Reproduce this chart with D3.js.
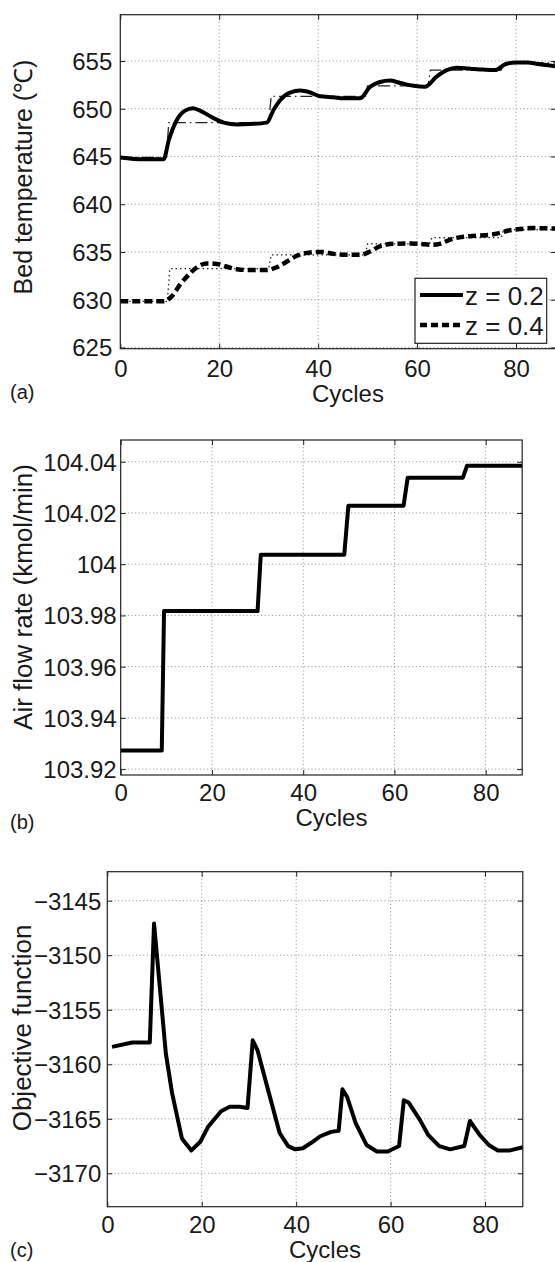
<!DOCTYPE html>
<html>
<head>
<meta charset="utf-8">
<script src="https://cdn.jsdelivr.net/npm/d3@7"></script>
<style>
  html, body { margin: 0; padding: 0; background: #fff; }
  svg { display: block; }
  text { font-family: "Liberation Sans", Arial, sans-serif; fill: #1a1a1a; }
</style>
</head>
<body>
<svg id="fig" width="555" height="1262"></svg>
<script>
// ---- (a) bed temperature ----
const z02Cycles = [0, 4.7, 8.75, 9.8, 11.4, 13.1, 14.7, 16.5, 18.9, 20.9, 23.6, 26.3, 29.6, 31, 32.3, 34.3, 36.4, 38.4, 40.4, 43.1, 45.1, 48.5, 50.5, 52.5, 54.5, 56.6, 59.3, 61.6, 64, 66, 68, 70.7, 73.4, 75.8, 77.8, 80.1, 82.2, 84.8, 88];
const z02Temp = [644.9, 644.7, 644.7, 646.7, 648.8, 649.8, 650.05, 649.7, 649.0, 648.55, 648.35, 648.4, 648.55, 649.9, 650.9, 651.7, 651.9, 651.7, 651.3, 651.2, 651.1, 651.1, 652.3, 652.8, 652.95, 652.7, 652.4, 652.3, 653.4, 654.05, 654.3, 654.2, 654.1, 654.05, 654.65, 654.85, 654.85, 654.65, 654.45];
const z04Cycles = [0, 8.75, 10.4, 12.1, 13.8, 15.5, 17.5, 19.5, 21.2, 23.6, 26.3, 29.6, 31.6, 33.7, 35.7, 38.4, 40.7, 43.1, 45.8, 48.5, 50.5, 52.5, 55.2, 58.6, 61.6, 63, 64.6, 67, 69.4, 72.1, 74.7, 76.4, 78.5, 80.8, 83.5, 88];
const z04Temp = [629.83, 629.83, 630.35, 631.6, 632.6, 633.4, 633.8, 633.75, 633.5, 633.2, 633.1, 633.1, 633.4, 634.0, 634.6, 634.95, 635.0, 634.8, 634.7, 634.7, 635.05, 635.6, 635.85, 635.9, 635.8, 635.75, 635.85, 636.35, 636.6, 636.7, 636.8, 636.95, 637.25, 637.4, 637.5, 637.45];
const z02SetCycles = [0, 9.3, 9.8, 30.0, 30.5, 49.5, 50.0, 62.2, 62.7, 77.0, 77.5, 88];
const z02SetTemp = [644.9, 644.9, 648.55, 648.55, 651.3, 651.3, 652.4, 652.4, 654.05, 654.05, 654.8, 654.8];
const z04SetCycles = [0, 9.5, 10.0, 30.0, 30.5, 49.5, 50.0, 62.5, 63.0, 77.0, 77.5, 88];
const z04SetTemp = [629.83, 629.83, 633.25, 633.25, 634.7, 634.7, 635.85, 635.85, 636.5, 636.5, 637.35, 637.35];
const tempTicks = [625, 630, 635, 640, 645, 650, 655];
const legendLabels = ["z = 0.2", "z = 0.4"];

// ---- (b) air flow rate ----
const airCycles = [0, 9, 9.5, 30, 30.7, 49, 49.9, 62, 62.9, 75, 75.9, 88];
const airFlow = [103.9273, 103.9273, 103.9817, 103.9817, 104.0037, 104.0037, 104.0228, 104.0228, 104.0338, 104.0338, 104.0384, 104.0384];
const airTicks = [103.92, 103.94, 103.96, 103.98, 104, 104.02, 104.04];
const airTickLabels = ["103.92", "103.94", "103.96", "103.98", "104", "104.02", "104.04"];

// ---- (c) objective function ----
const objCycles = [1, 5.3, 9, 9.9, 12.4, 13.7, 15.8, 17.8, 19.7, 21.4, 24.1, 25.9, 28, 29.7, 30.8, 31.8, 34.2, 36.5, 38.3, 39.8, 41.4, 43.2, 45.1, 47.4, 49, 49.8, 50.8, 52.6, 54.9, 57.1, 59.4, 61.8, 62.8, 63.8, 66.2, 68, 70.3, 72.6, 75.6, 76.8, 78.9, 80.8, 82.7, 85.3, 88];
const objValue = [-3158.4, -3158.0, -3158.0, -3147.1, -3159.0, -3162.6, -3166.8, -3167.9, -3167.1, -3165.7, -3164.3, -3163.9, -3163.9, -3164.0, -3157.8, -3158.7, -3162.6, -3166.3, -3167.5, -3167.8, -3167.7, -3167.2, -3166.6, -3166.2, -3166.1, -3162.3, -3163.0, -3165.4, -3167.4, -3168.0, -3168.0, -3167.5, -3163.3, -3163.5, -3165.1, -3166.5, -3167.5, -3167.8, -3167.5, -3165.2, -3166.5, -3167.4, -3167.9, -3167.9, -3167.6];
const objTicks = [-3170, -3165, -3160, -3155, -3150, -3145];

const cycleTicks = [0, 20, 40, 60, 80];
const cycleDomain = [0, 88];

const svg = d3.select("#fig");
const zip = (xs, ys) => xs.map((x, i) => [x, ys[i]]);

function panel(cfg) {
  const x = d3.scaleLinear().domain(cycleDomain).range([cfg.left, cfg.right]);
  const y = d3.scaleLinear().domain(cfg.yDomain).range([cfg.bottom, cfg.top]);
  const g = svg.append("g");

  // dotted grid
  const grid = g.append("g").attr("stroke", "#8a8a8a").attr("stroke-width", 1)
    .attr("stroke-dasharray", "1,2.6").attr("fill", "none");
  cycleTicks.filter(t => t > 0).forEach(t => {
    grid.append("line").attr("x1", x(t)).attr("x2", x(t)).attr("y1", cfg.top).attr("y2", cfg.bottom);
  });
  cfg.yTicks.forEach(t => {
    grid.append("line").attr("x1", cfg.left).attr("x2", cfg.right).attr("y1", y(t)).attr("y2", y(t));
  });

  // axes with inward ticks on all four sides
  const tl = 5;
  const axB = g.append("g").attr("transform", `translate(0,${cfg.bottom})`)
    .call(d3.axisBottom(x).tickValues(cycleTicks).tickSizeInner(-tl).tickSizeOuter(0).tickFormat(d3.format("d")));
  const axT = g.append("g").attr("transform", `translate(0,${cfg.top})`)
    .call(d3.axisTop(x).tickValues(cycleTicks).tickSizeInner(-tl).tickSizeOuter(0).tickFormat(""));
  const axL = g.append("g").attr("transform", `translate(${cfg.left},0)`)
    .call(d3.axisLeft(y).tickValues(cfg.yTicks).tickSizeInner(-tl).tickSizeOuter(0).tickPadding(cfg.yPad).tickFormat(cfg.yFormat));
  const axR = g.append("g").attr("transform", `translate(${cfg.right},0)`)
    .call(d3.axisRight(y).tickValues(cfg.yTicks).tickSizeInner(-tl).tickSizeOuter(0).tickFormat(""));
  [axB, axT, axL, axR].forEach(a => {
    a.select(".domain").remove();
    a.selectAll("line").attr("stroke", "#222");
    a.selectAll("text").attr("font-size", 24).attr("fill", "#1a1a1a")
      .style("font-family", '"Liberation Sans", Arial, sans-serif');
  });
  axB.selectAll("text").attr("dy", null).attr("y", cfg.xBase);
  axL.selectAll("text").attr("dy", "0.35em");

  // frame
  g.append("rect").attr("x", cfg.left).attr("y", cfg.top)
    .attr("width", cfg.right - cfg.left).attr("height", cfg.bottom - cfg.top)
    .attr("fill", "none").attr("stroke", "#222").attr("stroke-width", 1.2);

  // labels
  g.append("text").attr("x", (cfg.left + cfg.right) / 2 + 10).attr("y", cfg.cyclesBase)
    .attr("text-anchor", "middle").attr("font-size", 24).text("Cycles");
  g.append("text").attr("transform", `translate(${cfg.yLabelX},${cfg.yLabelY}) rotate(-90)`)
    .attr("text-anchor", "middle").attr("font-size", cfg.yLabelSize).text(cfg.yLabel);
  g.append("text").attr("x", 10).attr("y", cfg.tagBase).attr("font-size", 20).text(cfg.tag);

  const clip = "clip" + cfg.tag.replace(/\W/g, "");
  g.append("clipPath").attr("id", clip).append("rect")
    .attr("x", cfg.left).attr("y", cfg.top).attr("width", cfg.right - cfg.left).attr("height", cfg.bottom - cfg.top);
  const plot = g.append("g").attr("clip-path", `url(#${clip})`);
  return { x, y, g, plot };
}

// (a)
const pa = panel({
  left: 120.3, right: 555.6, top: 14.7, bottom: 348.7,
  yDomain: [624.87, 659.85], yTicks: tempTicks, yFormat: d3.format("d"),
  xBase: 28, yPad: 8,
  cyclesBase: 402, yLabel: "Bed temperature (℃)", yLabelSize: 25, yLabelX: 32, yLabelY: 177,
  tag: "(a)", tagBase: 399
});
const lineA = d3.line().x(d => pa.x(d[0])).y(d => pa.y(d[1]));
const smoothA = d3.line().x(d => pa.x(d[0])).y(d => pa.y(d[1])).curve(d3.curveMonotoneX);
pa.plot.append("path").attr("d", lineA(zip(z02SetCycles, z02SetTemp)))
  .attr("fill", "none").attr("stroke", "#222").attr("stroke-width", 1.3).attr("stroke-dasharray", "12,4,1.5,4");
pa.plot.append("path").attr("d", lineA(zip(z04SetCycles, z04SetTemp)))
  .attr("fill", "none").attr("stroke", "#222").attr("stroke-width", 1.3).attr("stroke-dasharray", "1.5,3");
pa.plot.append("path").attr("d", smoothA(zip(z02Cycles, z02Temp)))
  .attr("fill", "none").attr("stroke", "#000").attr("stroke-width", 4).attr("stroke-linejoin", "round");
pa.plot.append("path").attr("d", smoothA(zip(z04Cycles, z04Temp)))
  .attr("fill", "none").attr("stroke", "#000").attr("stroke-width", 4.5).attr("stroke-dasharray", "8,4");

// legend
const lg = pa.g.append("g");
lg.append("rect").attr("x", 415).attr("y", 278.3).attr("width", 131.7).attr("height", 65)
  .attr("fill", "#fff").attr("stroke", "#222").attr("stroke-width", 1.2);
legendLabels.forEach((lab, i) => {
  const yy = 295 + i * 30;
  lg.append("line").attr("x1", 420).attr("x2", 463).attr("y1", yy).attr("y2", yy)
    .attr("stroke", "#000").attr("stroke-width", i ? 4.5 : 4)
    .attr("stroke-dasharray", i ? "7,4" : null);
  lg.append("text").attr("x", 465).attr("y", yy + 10).attr("font-size", 26).text(lab);
});

// (b)
const pb = panel({
  left: 120.7, right: 522.2, top: 440, bottom: 775,
  yDomain: [103.9177, 104.0485], yTicks: airTicks, yFormat: (d, i) => airTickLabels[i],
  xBase: 26, yPad: 4,
  cyclesBase: 826, yLabel: "Air flow rate (kmol/min)", yLabelSize: 26, yLabelX: 32, yLabelY: 597,
  tag: "(b)", tagBase: 829
});
pb.plot.append("path")
  .attr("d", d3.line().x(d => pb.x(d[0])).y(d => pb.y(d[1]))(zip(airCycles, airFlow)))
  .attr("fill", "none").attr("stroke", "#000").attr("stroke-width", 4).attr("stroke-linejoin", "round");

// (c)
const pc = panel({
  left: 107.3, right: 522.8, top: 871.7, bottom: 1206.7,
  yDomain: [-3173.06, -3142.34], yTicks: objTicks, yFormat: d => "\u2212" + Math.abs(d),
  xBase: 26.3, yPad: 6,
  cyclesBase: 1258, yLabel: "Objective function", yLabelSize: 26, yLabelX: 31, yLabelY: 1028,
  tag: "(c)", tagBase: 1257
});
pc.plot.append("path")
  .attr("d", d3.line().x(d => pc.x(d[0])).y(d => pc.y(d[1]))(zip(objCycles, objValue)))
  .attr("fill", "none").attr("stroke", "#000").attr("stroke-width", 4).attr("stroke-linejoin", "round");
</script>
</body>
</html>
